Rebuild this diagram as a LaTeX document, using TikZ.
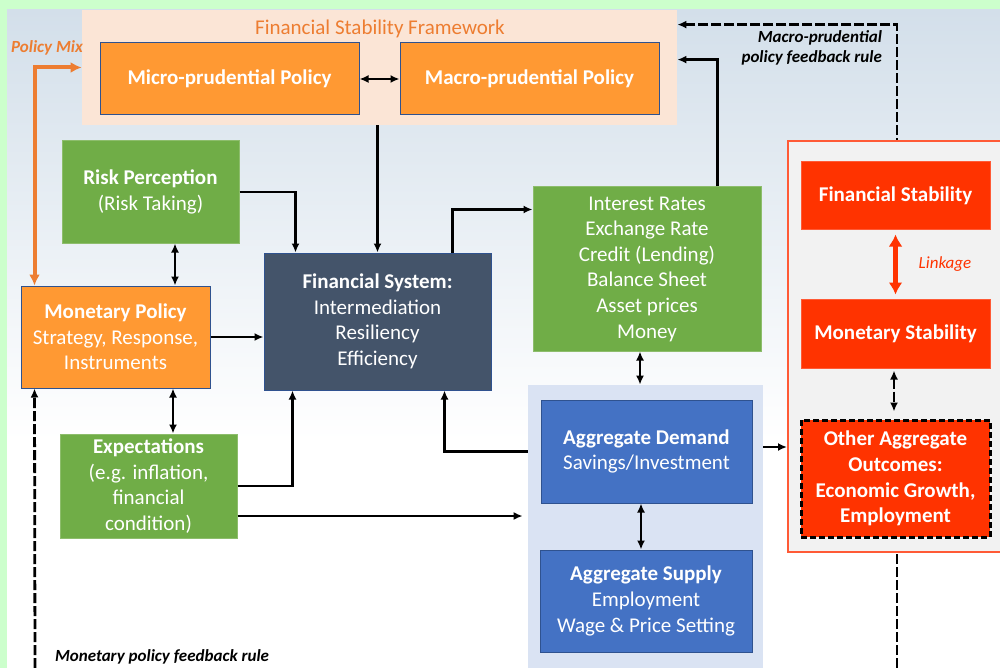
\documentclass[tikz,border=0pt]{standalone}
\usepackage{fontspec}
\setmainfont{Carlito}
\usetikzlibrary{arrows.meta}

\definecolor{mint}{HTML}{CCFFCC}
\definecolor{sky}{HTML}{D3DFEA}
\definecolor{peach}{HTML}{FBE5D6}
\definecolor{pumpkin}{HTML}{FF9933}
\definecolor{rust}{HTML}{ED7D31}
\definecolor{boxline}{HTML}{2F528F}
\definecolor{leaf}{HTML}{70AD47}
\definecolor{slate}{HTML}{44546A}
\definecolor{royal}{HTML}{4472C4}
\definecolor{paleblue}{HTML}{DAE3F3}
\definecolor{scarlet}{HTML}{FF3300}
\definecolor{redline}{HTML}{FF5A36}
\definecolor{lightgray}{HTML}{F2F2F2}

\begin{document}
\begin{tikzpicture}[x=0.5pt,y=-0.5pt,
	box/.style={draw=boxline, line width=0.5pt, text=white, align=center, inner sep=0pt,
		font=\fontsize{10.5}{12.8}\selectfont},
	greenbox/.style={box, fill=leaf, draw=leaf!80!white},
	redbox/.style={box, fill=scarlet, draw=redline},
	arr/.style={line width=1.3pt, -{Latex[length=4.5pt,width=4pt]}},
	dbl/.style={line width=1.3pt, {Latex[length=4.5pt,width=4pt]}-{Latex[length=4.5pt,width=4pt]}},
	fb/.style={line width=1.4pt, dash pattern=on 5pt off 1.5pt},
	tag/.style={font=\fontsize{8.5}{10}\selectfont\bfseries\itshape}
]
	%\draw[help lines, step=50] (0,0) grid (1000,668);
	\useasboundingbox (0,0) rectangle (1000,668);
	\clip (0,0) rectangle (1000,668);

	\path
	coordinate (cfsf) at (379.5,67.5)
	coordinate (cmicro) at (229.5,79)
	coordinate (cmacro) at (529.5,79)
	coordinate (crisk) at (150.5,192)
	coordinate (cmon) at (115.5,337)
	coordinate (csys) at (377.5,321.5)
	coordinate (cexp) at (148.5,486)
	coordinate (crates) at (647,269)
	coordinate (cagg) at (645.5,526.5)
	coordinate (cdem) at (646.5,451.5)
	coordinate (csup) at (646,601)
	coordinate (cright) at (899,346.5)
	coordinate (cfin) at (895.5,196)
	coordinate (cmst) at (895.5,333.5)
	coordinate (cout) at (895.5,478.5)
	coordinate (monfb) at (35,668)
	coordinate (macfb) at (897,668)
	;

	% backdrop
	\fill[mint] (0,0) rectangle (1000,668);
	\fill[white] (7,10) rectangle (1000,668);
	\shade[top color=sky, bottom color=white] (7,10) rectangle (1000,440);

	% feedback rule that runs behind the outcome panel
	\node[fill=peach, minimum width=297.5pt, minimum height=57.5pt, inner sep=0pt] (fsf) at (cfsf) {};
	\draw[fb, -{Latex[length=4.5pt,width=4pt]}] (macfb) |- ([yshift=-7.5pt]fsf.north east);

	% panels
	\node[draw=redline, line width=1pt, fill=lightgray, minimum width=111pt, minimum height=205.5pt] (rpanel) at (cright) {};
	\node[fill=paleblue, minimum width=117.5pt, minimum height=141.5pt] (aggpanel) at (cagg) {};

	\node[text=rust, font=\fontsize{10.5}{12.8}\selectfont] (fsftitle) at (380,29) {Financial Stability Framework};

	% boxes
	\node[box, fill=pumpkin, minimum width=129.5pt, minimum height=36pt] (micro) at (cmicro) {\bfseries Micro-prudential Policy};
	\node[box, fill=pumpkin, minimum width=129.5pt, minimum height=36pt] (macro) at (cmacro) {\bfseries Macro-prudential Policy};
	\node[greenbox, minimum width=88.5pt, minimum height=51pt] (risk) at (crisk) {{\bfseries Risk Perception}\\(Risk Taking)};
	\node[box, fill=pumpkin, minimum width=94.5pt, minimum height=51pt] (monpol) at (cmon) {{\bfseries Monetary Policy}\\Strategy, Response,\\Instruments};
	\node[box, fill=slate, minimum width=113.5pt, minimum height=68.5pt] (finsys) at (csys) {{\bfseries Financial System:}\\Intermediation\\Resiliency\\Efficiency};
	\node[greenbox, minimum width=88.5pt, minimum height=52pt] (expect) at (cexp) {{\bfseries Expectations}\\(e.g. inflation,\\financial\\condition)};
	\node[greenbox, minimum width=114pt, minimum height=82pt] (rates) at (crates) {Interest Rates\\Exchange Rate\\Credit (Lending)\\Balance Sheet\\Asset prices\\Money};
	\node[box, fill=royal, minimum width=105.5pt, minimum height=51.5pt] (demand) at (cdem) {{\bfseries Aggregate Demand}\\Savings/Investment};
	\node[box, fill=royal, minimum width=106pt, minimum height=51pt] (supply) at (csup) {{\bfseries Aggregate Supply}\\Employment\\Wage \& Price Setting};
	\node[redbox, minimum width=94.5pt, minimum height=34pt] (finstab) at (cfin) {\bfseries Financial Stability};
	\node[redbox, minimum width=94.5pt, minimum height=34.5pt] (monstab) at (cmst) {\bfseries Monetary Stability};
	\node[box, fill=scarlet, draw=black, line width=1.5pt, dash pattern=on 3pt off 1.5pt, minimum width=94.5pt, minimum height=58.5pt] (outcome) at (cout) {\bfseries Other Aggregate\\\bfseries Outcomes:\\\bfseries Economic Growth,\\\bfseries Employment};

	% connectors
	\draw[dbl] (micro) -- (macro);
	\draw[rust, line width=2pt, {Latex[length=5.5pt,width=5.5pt]}-{Latex[length=5.5pt,width=5.5pt]}]
		([xshift=7pt]monpol.north west) |- (fsf.west);
	\draw[arr] (risk) -| ([xshift=16pt]finsys.north west);
	\draw[arr] (fsf.south -| finsys) -- (finsys);
	\draw[arr] ([xshift=-19.5pt]finsys.north east) |- ([yshift=-11.5pt]rates.north west);
	\draw[arr] ([xshift=-22pt]rates.north east) |- ([yshift=-25pt]fsf.north east);
	\draw[dbl] ([xshift=12.25pt]risk.south) -- ([xshift=12.25pt]risk.south |- monpol.north);
	\draw[dbl] ([xshift=12.25pt]expect.north) -- ([xshift=12.25pt]expect.north |- monpol.south);
	\draw[arr] (monpol) -- (monpol -| finsys.west);
	\draw[arr] (expect) -| ([xshift=14.5pt]finsys.south west);
	\draw[arr, shorten >=2.5pt] ([yshift=-15pt]expect.east) -- ([yshift=-15pt]expect.east -| aggpanel.west);
	\draw[arr] (aggpanel.west |- demand) -| ([xshift=-23.5pt]finsys.south east);
	\draw[dbl] ([xshift=-3.5pt]rates.south) -- ([xshift=-3.5pt]rates.south |- aggpanel.north);
	\draw[dbl] ([xshift=-2.75pt]demand.south) -- ([xshift=-2.75pt]demand.south |- supply.north);
	\draw[arr] ([yshift=2.25pt]aggpanel.east |- demand) -- ([yshift=2.25pt]rpanel.west |- demand);
	\draw[scarlet, line width=2.2pt, shorten <=2pt, shorten >=2pt,
		{Latex[length=6pt,width=7pt]}-{Latex[length=6pt,width=7pt]}] (finstab) -- (monstab);
	\draw[fb, shorten <=1pt, shorten >=3.5pt, {Latex[length=4.5pt,width=4pt]}-{Latex[length=4.5pt,width=4pt]}]
		([xshift=-0.75pt]monstab.south) -- ([xshift=-0.75pt]outcome.north);
	\draw[fb, -{Latex[length=4.5pt,width=4pt]}] (monfb) -- ([xshift=7pt]monpol.south west);

	% labels
	\node[tag, text=rust] (mixlbl) at (47,48) {Policy Mix};
	\node[tag, align=right, anchor=east] (maclbl) at (889,48) {Macro-prudential\\policy feedback rule};
	\node[tag, anchor=west] (monlbl) at (48,657) {Monetary policy feedback rule};
	\node[font=\fontsize{8.5}{10}\selectfont\itshape, text=scarlet] (linklbl) at (945,264) {Linkage};

\end{tikzpicture}
\end{document}
